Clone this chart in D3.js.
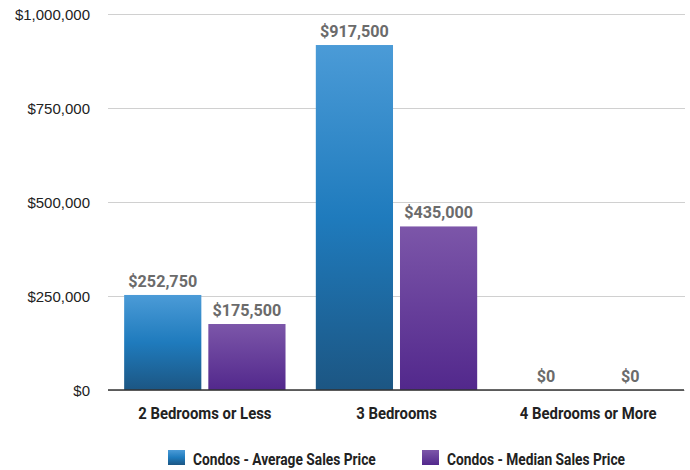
<!DOCTYPE html>
<html>
<head>
<meta charset="utf-8">
<script src="https://cdn.jsdelivr.net/npm/d3@7"></script>
<style>
  body { margin: 0; background: #fff; }
  .ytick { font-family: "Liberation Sans", Arial, sans-serif; font-size: 15px; fill: #222; }
  .cat { font-family: Roboto, sans-serif; font-weight: bold; font-size: 16px; fill: #222; }
  .val { font-family: Roboto, sans-serif; font-weight: bold; font-size: 17px; fill: #6b6b6b; }
  .leg { font-family: Roboto, sans-serif; font-weight: bold; font-size: 16px; fill: #222; }
</style>
</head>
<body>
<div class="chart"></div>
<script>
// categories + series
const categories = ["2 Bedrooms or Less", "3 Bedrooms", "4 Bedrooms or More"];
const seriesNames = ["Condos - Average Sales Price", "Condos - Median Sales Price"];
const averagePrice = [252750, 917500, 0];
const medianPrice = [175500, 435000, 0];
const yTicks = [0, 250000, 500000, 750000, 1000000];

const svgWidth = 690, svgHeight = 470;
const margin = { left: 108, right: 5, top: 14, bottom: 80 };

const svg = d3.select(".chart").append("svg")
    .attr("width", svgWidth)
    .attr("height", svgHeight);

// gradients for bars
const defs = svg.append("defs");
const grads = [
    { id: "gBlue", stops: [["0%", "#4b9bd7"], ["50%", "#1f7bbd"], ["100%", "#1c5683"]] },
    { id: "gPurple", stops: [["0%", "#7c56a9"], ["100%", "#52288c"]] }
];
grads.forEach(g => {
    const lg = defs.append("linearGradient").attr("id", g.id)
        .attr("x1", 0).attr("y1", 0).attr("x2", 0).attr("y2", 1);
    g.stops.forEach(s => lg.append("stop").attr("offset", s[0]).attr("stop-color", s[1]));
});
const fills = ["url(#gBlue)", "url(#gPurple)"];

const y = d3.scaleLinear().domain([0, 1000000]).range([390, 14]);
const x0 = d3.scaleBand().domain(categories).range([109, 684]).paddingInner(0).paddingOuter(0);
const x1 = d3.scaleBand().domain(seriesNames).range([0, x0.bandwidth()]).paddingInner(0.083).paddingOuter(0.18);

// gridlines + y labels
const yAxis = d3.axisLeft(y).tickValues(yTicks).tickSize(-(685 - margin.left))
    .tickFormat(d => "$" + d3.format(",")(d)).tickPadding(18);
const yg = svg.append("g").attr("transform", `translate(${margin.left},0)`).call(yAxis);
yg.select(".domain").remove();
yg.selectAll(".tick line").attr("stroke", "#d0d0d0");
yg.selectAll(".tick text").attr("class", "ytick").attr("dy", "0.35em");

// bars
const rows = categories.map((c, i) => ({ cat: c, vals: [averagePrice[i], medianPrice[i]] }));
const groups = svg.selectAll(".grp").data(rows).enter().append("g")
    .attr("transform", d => `translate(${x0(d.cat)},0)`);

groups.selectAll("rect").data(d => d.vals.map((v, j) => ({ v, j }))).enter().append("rect")
    .attr("x", d => x1(seriesNames[d.j]))
    .attr("y", d => y(d.v))
    .attr("width", x1.bandwidth())
    .attr("height", d => y(0) - y(d.v))
    .attr("fill", d => fills[d.j]);

// value labels (condensed look via scaleX)
groups.selectAll(".val").data(d => d.vals.map((v, j) => ({ v, j }))).enter().append("text")
    .attr("class", "val")
    .attr("text-anchor", "middle")
    .attr("transform", d => `translate(${x1(seriesNames[d.j]) + x1.bandwidth() / 2},${y(d.v) - 8}) scale(0.95,1)`)
    .text(d => "$" + d3.format(",")(d.v));

// baseline
svg.append("line").attr("x1", margin.left).attr("x2", 684)
    .attr("y1", y(0)).attr("y2", y(0)).attr("stroke", "#333").attr("stroke-width", 1.5);

// category labels
svg.selectAll(".cat").data(categories).enter().append("text")
    .attr("class", "cat").attr("text-anchor", "middle")
    .attr("transform", d => `translate(${x0(d) + x0.bandwidth() / 2},419) scale(0.93,1)`)
    .text(d => d);

// legend
const legendX = [168, 422];
const leg = svg.selectAll(".legitem").data(seriesNames).enter().append("g")
    .attr("transform", (d, i) => `translate(${legendX[i]},450)`);
leg.append("rect").attr("width", 17).attr("height", 15)
    .attr("fill", (d, i) => fills[i]);
leg.append("text").attr("class", "leg")
    .attr("transform", "translate(25,15) scale(0.86,1)").text(d => d);
</script>
</body>
</html>
